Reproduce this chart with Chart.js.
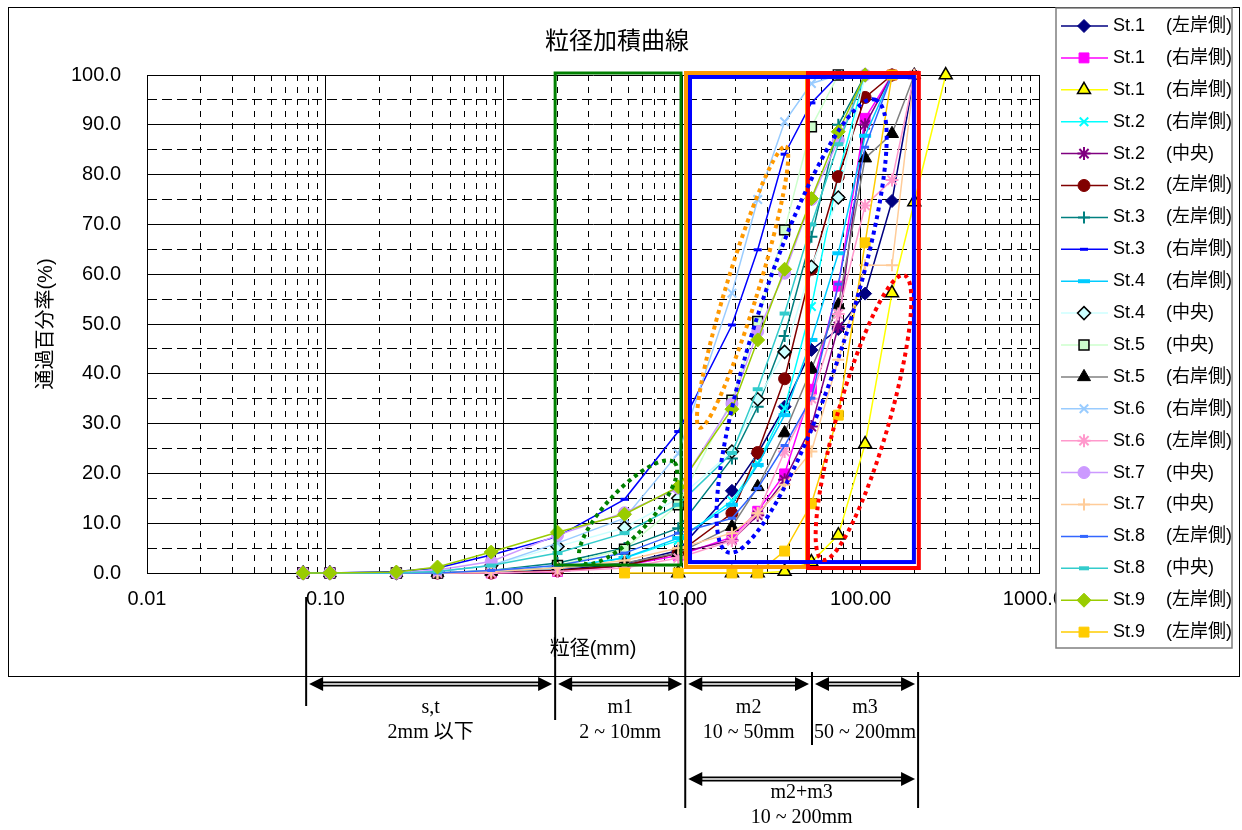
<!DOCTYPE html>
<html>
<head>
<meta charset="utf-8">
<title>粒径加積曲線</title>
<script src="https://cdn.jsdelivr.net/npm/chart.js@4.4.0/dist/chart.umd.min.js"></script>
<style>
  html, body { margin: 0; padding: 0; background: #fff; }
  #wrap { position: relative; width: 1242px; height: 830px; }
</style>
</head>
<body>
<div id="wrap"><canvas id="grading" width="1242" height="830"></canvas></div>
<script>
// sieve sizes (mm)
const sieveMm = [0.075, 0.106, 0.25, 0.425, 0.85, 2, 4.75, 9.5, 19, 26.5, 37.5, 53, 75, 106, 150, 200, 300];

// axis ticks
const xTicks = [0.01, 0.1, 1, 10, 100, 1000];
const xMinor = [2,3,4,5,6,7,8,9,20,30,40,50,60,70,80,90].flatMap(m => [m * 0.001, m * 0.01, m * 0.1, m, m * 10]).filter(v => v > 0.01 && v < 1000);
const yTicks = [0, 10, 20, 30, 40, 50, 60, 70, 80, 90, 100];
const yMinor = [5, 15, 25, 35, 45, 55, 65, 75, 85, 95];

// legend labels
const stations = ["St.1","St.1","St.1","St.2","St.2","St.2","St.3","St.3","St.4","St.4",
                  "St.5","St.5","St.6","St.6","St.7","St.7","St.8","St.8","St.9","St.9"];
const banks = ["(左岸側)","(右岸側)","(右岸側)","(右岸側)","(中央)","(左岸側)","(左岸側)","(右岸側)","(右岸側)","(中央)",
               "(中央)","(右岸側)","(右岸側)","(左岸側)","(中央)","(中央)","(左岸側)","(中央)","(左岸側)","(左岸側)"];

// passing percentage (%) at each sieve, null = no point
const st1Left   = [0, 0, 0, 0, 0.2, 0.6, 1.8, 4.5, 16.5, 24, 33.4, 44.8, 49.0, 56.1, 74.7, 100, null];
const st1Right  = [0, 0, 0, 0, 0, 0.3, 1.5, 3.5, 7.2, 12.4, 19.9, 36.9, 57.6, 91.3, 100, null, null];
const st1RightB = [null, null, null, null, null, null, null, 0, 0, 0, 0.3, 2.2, 7.6, 25.9, 56.2, 74.5, 100];
const st2Right  = [0, 0, 0, 0, 0.3, 1, 3, 6.5, 14.5, 22, 33.1, 53.5, 80, 100, null, null, null];
const st2Mid    = [0, 0, 0, 0, 0, 0.3, 1.5, 4, 6.6, 11.6, 18.7, 29.4, 49.5, 90, 100, null, null];
const st2Left   = [0, 0, 0, 0, 0, 0.5, 1.5, 4, 12, 24.2, 39, 61, 79.6, 95.5, 100, null, null];
const st3Left   = [0, 0, 0, 0, 0.5, 2, 5, 9, 23, 33.4, 47.6, 67.5, 90, 100, null, null, null];
const st3Right  = [0, 0, 0.3, 1, 3.6, 7.3, 14.8, 28.4, 49.8, 64.9, 84.1, 94.4, 100, null, null, null, null];
const st4Right  = [0, 0, 0, 0, 0.3, 1, 3, 7, 13.7, 21.7, 31.7, 46.8, 64.2, 87.8, 100, null, null];
const st4Mid    = [0, 0, 0, 0.3, 1.5, 5.3, 9.1, 15, 24.4, 34.9, 44.4, 61.5, 75.4, 100, null, null, null];
const st5Mid    = [0, 0, 0, 0, 0.5, 1.5, 4.8, 13.7, 34.7, 50.5, 68.9, 89.6, 100, null, null, null, null];
const st5Right  = [0, 0, 0, 0, 0.3, 1, 2, 4, 9.3, 17.3, 28.1, 41, 53.8, 83.3, 88.2, 100, null];
const st6Right  = [0, 0, 0, 0.3, 1.5, 6, 11, 24, 56.2, 75, 90.6, 98.3, 100, null, null, null, null];
const st6Left   = [0, 0, 0, 0, 0, 0.3, 1, 3, 6.5, 12, 24.4, 35, 52, 73.8, 78.9, 100, null];
const st7Mid    = [0, 0, 0, 0.6, 2.3, 7.6, 12.1, 17, 34, 48.5, 60.2, 75, 86.9, 100, null, null, null];
const st7MidB   = [0, 0, 0, 0, 0.3, 1, 2.5, 5, 8, 12, 17.7, 24.4, 42.8, 61.8, 61.8, 100, null];
const st8Left   = [0, 0, 0, 0, 0.5, 1.5, 4, 8, 11, 17, 25.6, 35.1, 58, 85.5, 100, null, null];
const st8Mid    = [0, 0, 0, 0.3, 1.5, 4, 8, 13.7, 24.1, 36.9, 52.1, 70, 86.1, 100, null, null, null];
const st9Left   = [0, 0, 0.2, 1.2, 4.2, 8.2, 11.8, 17.3, 32.9, 46.8, 61, 75.2, 88.6, 100, null, null, null];
const st9LeftB  = [null, null, null, null, null, null, 0, 0, 0, 0, 4.4, 13.9, 31.7, 66.3, 100, null, null];

const allSeries = [st1Left, st1Right, st1RightB, st2Right, st2Mid, st2Left, st3Left, st3Right, st4Right, st4Mid,
                   st5Mid, st5Right, st6Right, st6Left, st7Mid, st7MidB, st8Left, st8Mid, st9Left, st9LeftB];

// line / marker look of each series
const seriesStyle = [
  { line: "#000080", marker: "rectRot",  r: 6.5 },
  { line: "#FF00FF", marker: "rect",     r: 7 },
  { line: "#FFFF00", marker: "triangle", r: 7.5, edge: "#000000", bw: 1.5 },
  { line: "#00FFFF", marker: "crossRot", r: 6,   bw: 2 },
  { line: "#800080", marker: "star",     r: 6.5, bw: 2 },
  { line: "#800000", marker: "circle",   r: 6 },
  { line: "#008080", marker: "cross",    r: 6,   bw: 2 },
  { line: "#0000FF", marker: "line",     r: 4,   bw: 3 },
  { line: "#00CCFF", marker: "line",     r: 6,   bw: 4 },
  { line: "#CCFFFF", marker: "rectRot",  r: 6.5, edge: "#000000", bw: 1.5 },
  { line: "#CCFFCC", marker: "rect",     r: 7,   edge: "#000000", bw: 1.5 },
  { line: "#808080", marker: "triangle", r: 7.5, fill: "#000000", edge: "#000000" },
  { line: "#99CCFF", marker: "crossRot", r: 6,   bw: 2 },
  { line: "#FF99CC", marker: "star",     r: 6.5, bw: 2 },
  { line: "#CC99FF", marker: "circle",   r: 6 },
  { line: "#FFCC99", marker: "cross",    r: 6,   bw: 2 },
  { line: "#3366FF", marker: "line",     r: 4,   bw: 3 },
  { line: "#33CCCC", marker: "line",     r: 5,   bw: 4 },
  { line: "#99CC00", marker: "rectRot",  r: 7 },
  { line: "#FFCC00", marker: "rect",     r: 7 }
];

// hand drawn zones on the plot (mm / %)
const zoneBoxes = [
  { from: 1.94, to: 9.85, top: 100.4, bottom: 1.6, color: "#008000", width: 3 },
  { from: 10.5, to: 50.1, top: 100.4, bottom: 1.2, color: "#FF9900", width: 4 },
  { from: 50.7, to: 212,  top: 100.4, bottom: 1.0, color: "#FF0000", width: 4 },
  { from: 11.06, to: 199, top: 99.6,  bottom: 2.2, color: "#0000FF", width: 4 }
];
const zoneLoops = [
  { mm: 4.97,  pct: 12.2, rx: 68,  ry: 22, tilt: -47, color: "#008000" },
  { mm: 21.8,  pct: 57.4, rx: 147, ry: 16, tilt: -73, color: "#FF9900" },
  { mm: 46.7,  pct: 49.6, rx: 238, ry: 45, tilt: -72, color: "#0000FF" },
  { mm: 103.8, pct: 31.2, rx: 148, ry: 26, tilt: -74, color: "#FF0000" }
];

// size classes under the axis (mm)
const rangeMarks = [0.078, 1.94, 10.4, 53.4, 210];
const rangeNames = ["s,t", "m1", "m2", "m3"];
const rangeText  = ["2mm 以下", "2 ~ 10mm", "10 ~ 50mm", "50 ~ 200mm"];

const sansFont  = '"Liberation Sans", Arial, "Noto Sans CJK JP", sans-serif';
const serifFont = '"Liberation Serif", "Times New Roman", "Noto Sans CJK JP", serif';
Chart.defaults.font.family = sansFont;
Chart.defaults.color = "#000";

const datasets = allSeries.map((vals, i) => {
  const s = seriesStyle[i];
  const pts = [];
  vals.forEach((v, k) => { if (v !== null) pts.push({ x: sieveMm[k], y: v }); });
  return {
    label: stations[i] + " " + banks[i],
    data: pts,
    xAxisID: "x",
    yAxisID: "y",
    borderColor: s.line,
    borderWidth: 1.5,
    pointStyle: s.marker,
    pointRadius: s.r,
    pointBackgroundColor: s.fill || s.line,
    pointBorderColor: s.edge || s.line,
    pointBorderWidth: s.bw || 1,
    tension: 0,
    fill: false,
    clip: false,
    order: -i
  };
});

function arrow(ctx, x1, x2, y) {
  const head = 14, half = 7;
  ctx.strokeStyle = "#000";
  ctx.lineWidth = 5;
  ctx.beginPath(); ctx.moveTo(x1 + head - 2, y); ctx.lineTo(x2 - head + 2, y); ctx.stroke();
  ctx.strokeStyle = "#fff";
  ctx.lineWidth = 1.5;
  ctx.beginPath(); ctx.moveTo(x1 + head, y); ctx.lineTo(x2 - head, y); ctx.stroke();
  ctx.fillStyle = "#000";
  ctx.beginPath(); ctx.moveTo(x1, y); ctx.lineTo(x1 + head, y - half); ctx.lineTo(x1 + head, y + half); ctx.closePath(); ctx.fill();
  ctx.beginPath(); ctx.moveTo(x2, y); ctx.lineTo(x2 - head, y - half); ctx.lineTo(x2 - head, y + half); ctx.closePath(); ctx.fill();
}

const overlay = {
  id: "overlay",
  afterDatasetsDraw(chart) {
    const ctx = chart.ctx, xs = chart.scales.x, ys = chart.scales.y;
    ctx.save();
    zoneBoxes.forEach(b => {
      const x1 = xs.getPixelForValue(b.from), x2 = xs.getPixelForValue(b.to);
      const y1 = ys.getPixelForValue(b.top), y2 = ys.getPixelForValue(b.bottom);
      ctx.strokeStyle = b.color;
      ctx.lineWidth = b.width;
      ctx.strokeRect(x1, y1, x2 - x1, y2 - y1);
    });
    ctx.setLineDash([4, 4]);
    ctx.lineWidth = 4;
    zoneLoops.forEach(l => {
      ctx.strokeStyle = l.color;
      ctx.beginPath();
      ctx.ellipse(xs.getPixelForValue(l.mm), ys.getPixelForValue(l.pct), l.rx, l.ry, l.tilt * Math.PI / 180, 0, Math.PI * 2);
      ctx.stroke();
    });
    ctx.restore();
  },
  afterDraw(chart) {
    const ctx = chart.ctx, xs = chart.scales.x, area = chart.chartArea;
    ctx.save();

    // title
    ctx.fillStyle = "#000";
    ctx.font = "24px " + sansFont;
    ctx.textAlign = "center";
    ctx.textBaseline = "middle";
    ctx.fillText("粒径加積曲線", 617, 42);

    // outer frame
    ctx.strokeStyle = "#000";
    ctx.lineWidth = 1;
    ctx.strokeRect(8.5, 7.5, 1231, 669);

    // size classes
    const mx = rangeMarks.map(v => xs.getPixelForValue(v));
    const base = area.bottom;
    const spans = [[24, 133], [24, 147], [24, 235], [99, 172], [99, 235]];
    ctx.strokeStyle = "#000";
    ctx.lineWidth = 2;
    mx.forEach((x, k) => {
      ctx.beginPath(); ctx.moveTo(x, base + spans[k][0]); ctx.lineTo(x, base + spans[k][1]); ctx.stroke();
    });
    for (let k = 0; k < 4; k++) arrow(ctx, mx[k] + 3, mx[k + 1] - 3, base + 111);
    arrow(ctx, mx[2] + 3, mx[4] - 3, base + 206);
    ctx.fillStyle = "#000";
    ctx.font = "20px " + serifFont;
    ctx.textAlign = "center";
    ctx.textBaseline = "middle";
    for (let k = 0; k < 4; k++) {
      const cx = (mx[k] + mx[k + 1]) / 2;
      ctx.fillText(rangeNames[k], cx, base + 135);
      ctx.fillText(rangeText[k], cx, base + 160);
    }
    ctx.fillText("m2+m3", (mx[2] + mx[4]) / 2, base + 220);
    ctx.fillText("10 ~ 200mm", (mx[2] + mx[4]) / 2, base + 245);

    // legend box
    const lx = 1056, ly = 8, lw = 176, lh = 640;
    ctx.fillStyle = "#fff";
    ctx.fillRect(lx, ly, lw, lh);
    ctx.strokeStyle = "#7f7f7f";
    ctx.lineWidth = 1.5;
    ctx.strokeRect(lx, ly, lw, lh);
    ctx.beginPath(); ctx.rect(lx, ly, lw, lh); ctx.clip();
    ctx.font = "18px " + sansFont;
    ctx.textAlign = "left";
    ctx.textBaseline = "middle";
    datasets.forEach((d, i) => {
      const y = 26 + i * 31.9;
      ctx.strokeStyle = d.borderColor;
      ctx.lineWidth = 1.5;
      ctx.setLineDash([]);
      ctx.beginPath(); ctx.moveTo(1061, y); ctx.lineTo(1108, y); ctx.stroke();
      ctx.fillStyle = d.pointBackgroundColor;
      ctx.strokeStyle = d.pointBorderColor;
      ctx.lineWidth = d.pointBorderWidth;
      Chart.helpers.drawPoint(ctx, { pointStyle: d.pointStyle, radius: d.pointRadius, borderWidth: d.pointBorderWidth, rotation: 0 }, 1084, y);
      ctx.fillStyle = "#000";
      ctx.fillText(stations[i], 1113, y);
      ctx.fillText(banks[i], 1166, y);
    });
    ctx.restore();
  }
};

new Chart(document.getElementById("grading"), {
  type: "line",
  data: { datasets },
  options: {
    responsive: false,
    animation: false,
    devicePixelRatio: 1,
    events: [],
    layout: { padding: { top: 75, left: 34, right: 203, bottom: 169 } },
    plugins: { legend: { display: false }, title: { display: false }, tooltip: { enabled: false } },
    scales: {
      x: {
        type: "logarithmic",
        position: "bottom",
        min: 0.01,
        max: 1000,
        afterBuildTicks: s => { s.ticks = xTicks.map(v => ({ value: v })); },
        afterFit: s => { s.height = 88; },
        ticks: { autoSkip: false, maxRotation: 0, padding: 14, font: { size: 20 }, callback: v => Number(v).toFixed(2) },
        grid: { color: "#000", lineWidth: 1, drawTicks: false },
        border: { display: true, color: "#000", width: 1 },
        title: { display: true, text: "粒径(mm)", font: { size: 20 }, padding: 0 }
      },
      x2: {
        type: "logarithmic",
        position: "bottom",
        min: 0.01,
        max: 1000,
        afterBuildTicks: s => { s.ticks = xMinor.map(v => ({ value: v })); },
        afterFit: s => { s.height = 0; },
        ticks: { display: false },
        grid: { color: "#000", lineWidth: 1, drawTicks: false },
        border: { display: false, dash: [6, 6] }
      },
      y: {
        type: "linear",
        position: "left",
        min: 0,
        max: 100,
        afterBuildTicks: s => { s.ticks = yTicks.map(v => ({ value: v })); },
        afterFit: s => { s.width = 113; },
        ticks: { padding: 26, font: { size: 20 }, callback: v => Number(v).toFixed(1) },
        grid: { color: "#000", lineWidth: 1, drawTicks: false },
        border: { display: true, color: "#000", width: 1 },
        title: { display: true, text: "通過百分率(%)", font: { size: 20 }, padding: 0 }
      },
      y2: {
        type: "linear",
        position: "left",
        min: 0,
        max: 100,
        afterBuildTicks: s => { s.ticks = yMinor.map(v => ({ value: v })); },
        afterFit: s => { s.width = 0; },
        ticks: { display: false },
        grid: { color: "#000", lineWidth: 1, drawTicks: false },
        border: { display: false, dash: [10, 5] }
      }
    }
  },
  plugins: [overlay]
});
</script>
</body>
</html>
